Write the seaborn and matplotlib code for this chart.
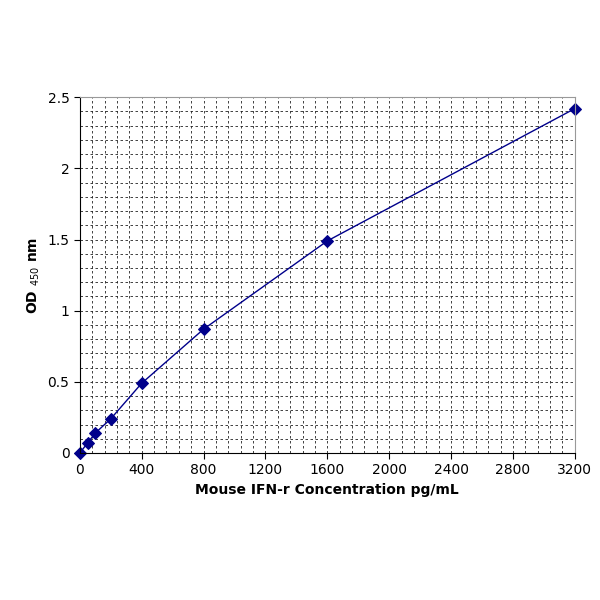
import matplotlib
matplotlib.use("Agg")
import matplotlib.pyplot as plt
import seaborn as sns
import numpy as np
import pandas as pd

conc = [0, 50, 100, 200, 400, 800, 1600, 3200]
od = [0.0, 0.07, 0.14, 0.24, 0.49, 0.87, 1.49, 2.42]
xticks = [0, 400, 800, 1200, 1600, 2000, 2400, 2800, 3200]
yticks = [0, 0.5, 1, 1.5, 2, 2.5]

df = pd.DataFrame({"conc": conc, "od": od})
fig = plt.figure(figsize=(6, 6), dpi=100)
ax = fig.add_axes([0.133, 0.245, 0.825, 0.593])
ax.set_xticks(np.arange(0, 3201, 80), minor=True)
ax.set_yticks(np.arange(0, 2.51, 0.1), minor=True)
ax.grid(True, which="both", color="#222222", linestyle=(0, (3, 3)), linewidth=0.6)
ax.set_axisbelow(True)
sns.lineplot(data=df, x="conc", y="od", ax=ax, color="#00008B", marker="D",
             markersize=6, linewidth=1, markeredgecolor="#00008B")
for ln in ax.lines:
    ln.set_clip_on(False)
ax.set_xlim(0, 3200)
ax.set_ylim(0, 2.5)
ax.set_xticks(xticks)
ax.set_xticklabels([str(v) for v in xticks])
ax.set_yticks(yticks)
ax.set_yticklabels(["0", "0.5", "1", "1.5", "2", "2.5"])
ax.tick_params(which="minor", length=0)
ax.tick_params(which="major", length=4, labelsize=10)
for s in ["top", "right"]:
    ax.spines[s].set_color("#999999")
ax.set_xlabel("Mouse IFN-r Concentration pg/mL", fontweight="bold", fontsize=10)
ax.set_ylabel(r"OD $_{450}$ nm", fontweight="bold", fontsize=10)
fig.savefig("out.png")
